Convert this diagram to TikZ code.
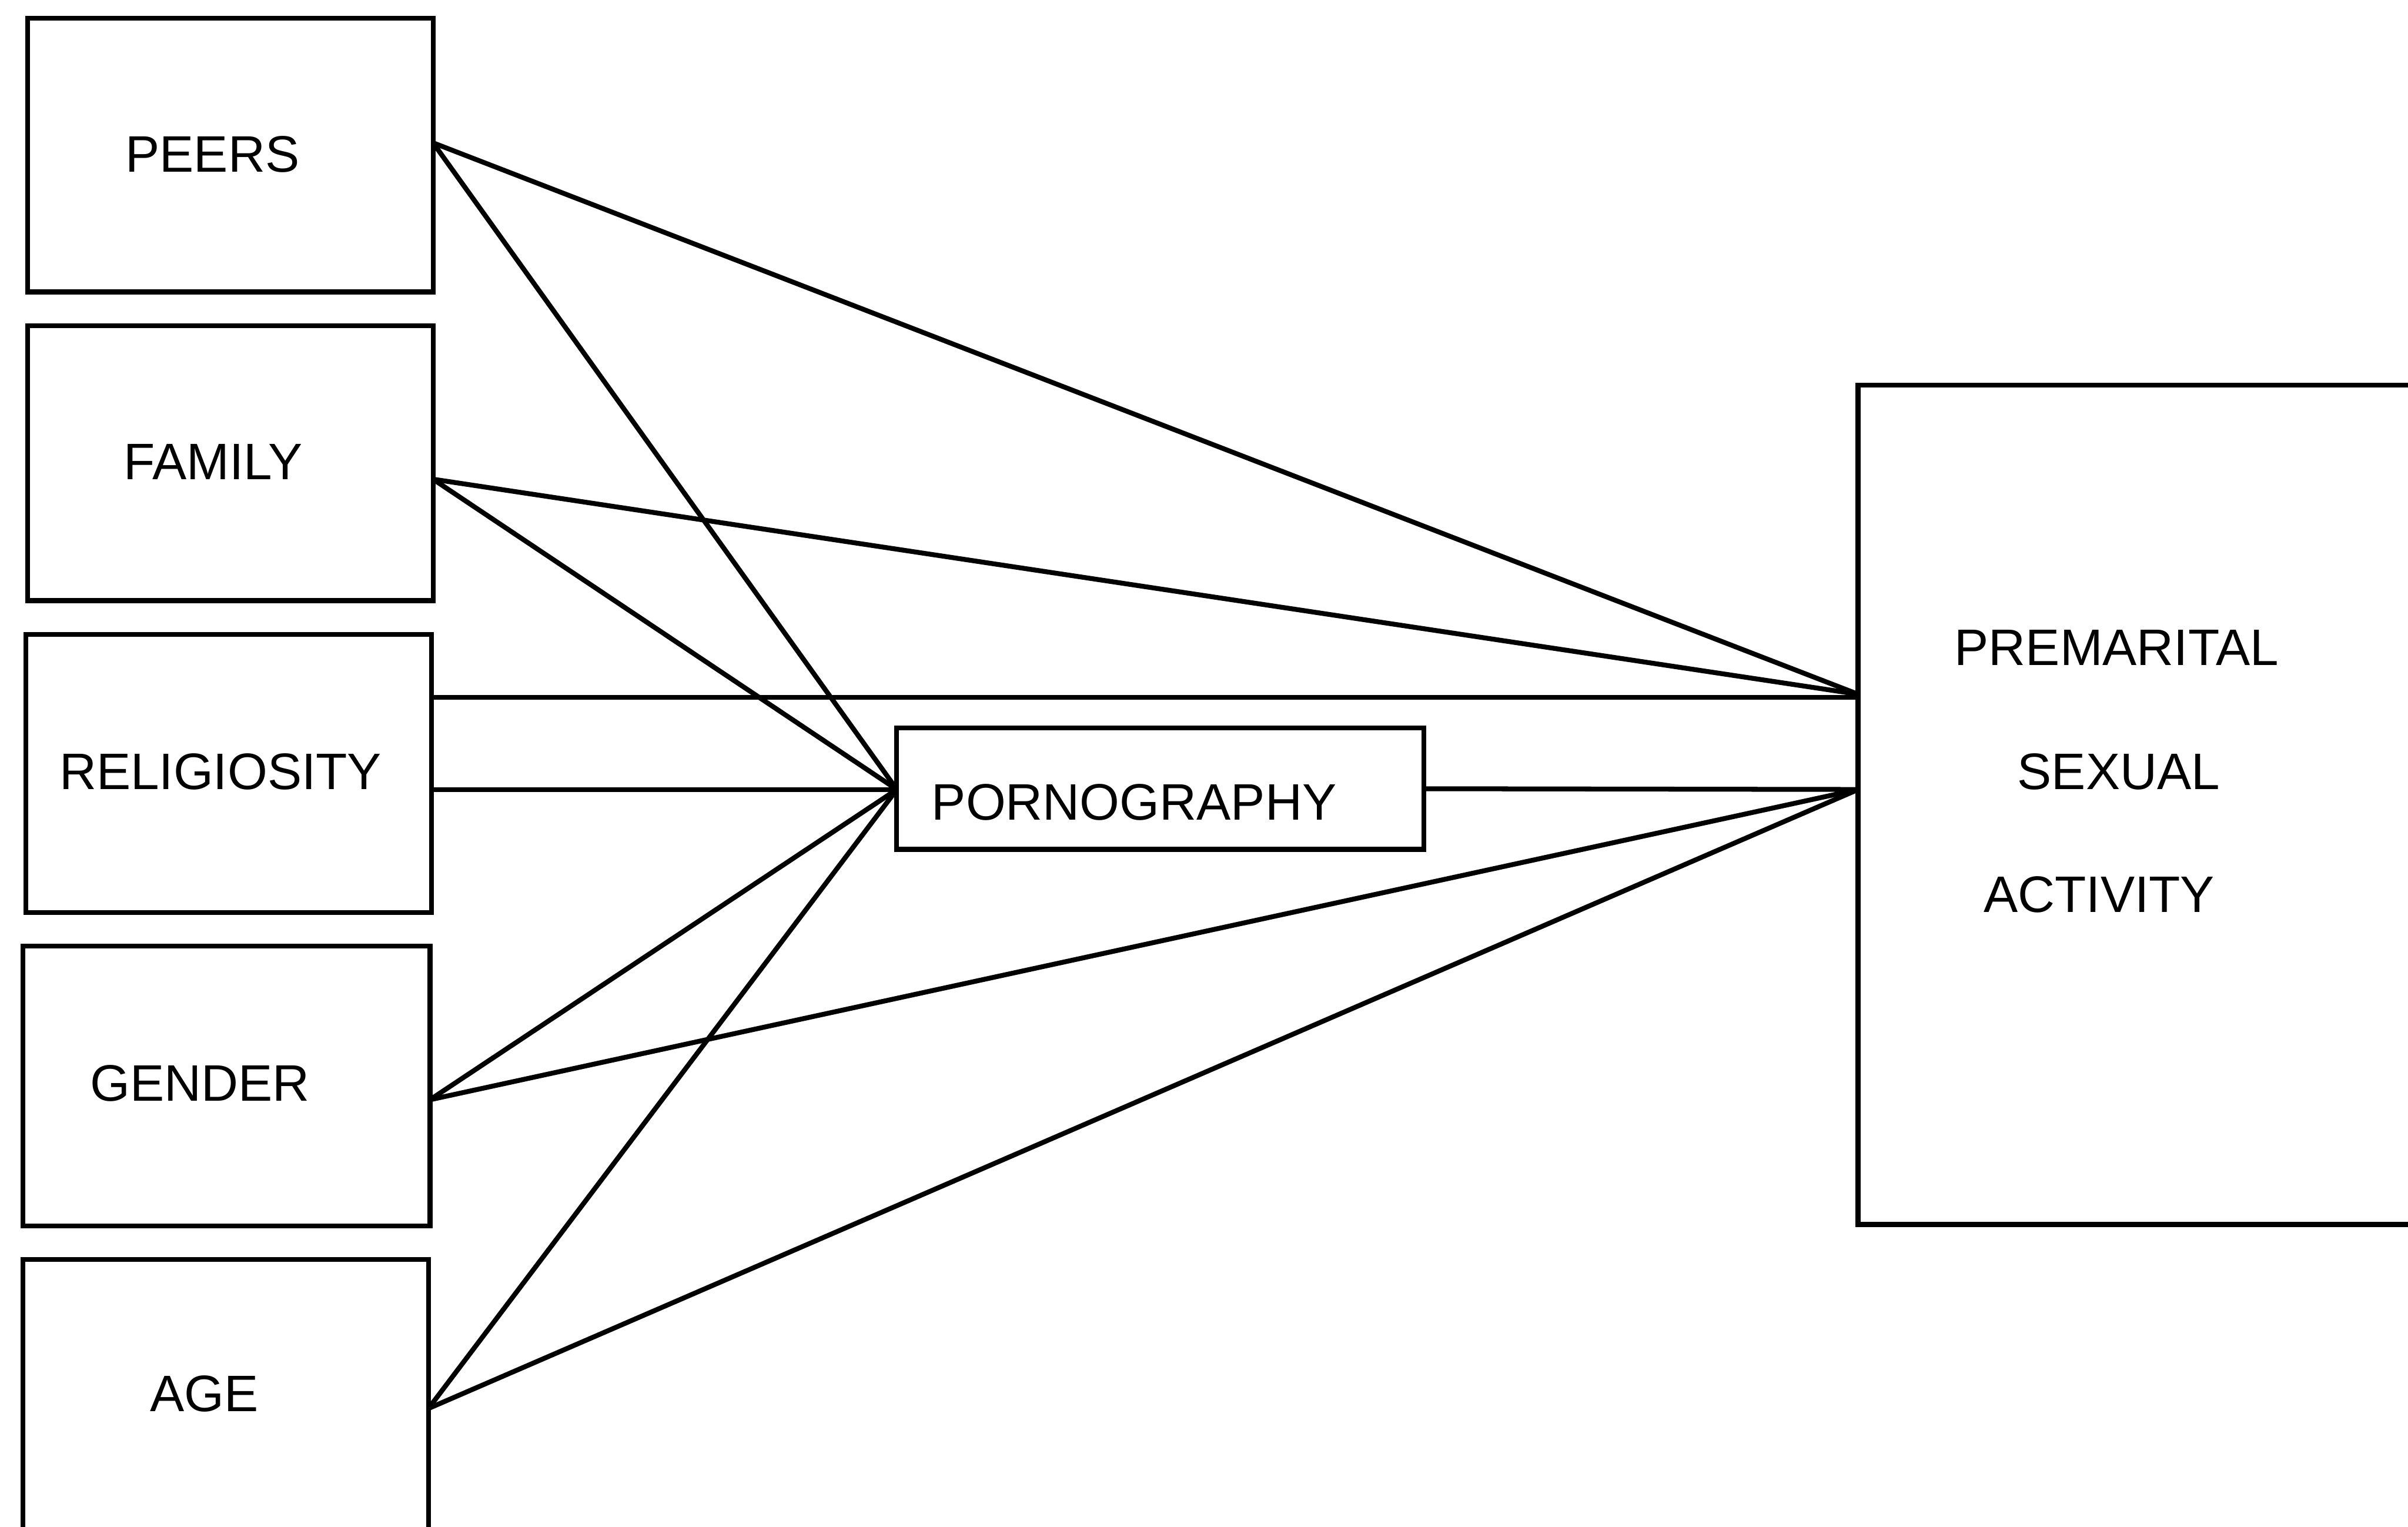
\documentclass[tikz,border=0pt]{standalone}
\usepackage{fontspec}
\setmainfont{Liberation Sans}
\begin{document}
\begin{tikzpicture}[x=0.01cm,y=-0.01cm,
  box/.style={draw, line width=0.9pt, fill=white, inner sep=0pt, outer sep=0pt},
  lbl/.style={anchor=base west, inner sep=0pt, font=\fontsize{9.5pt}{11pt}\selectfont},
  conn/.style={line width=0.9pt}]
\useasboundingbox (0,0) rectangle (1568,994);
\clip (0,0) rectangle (1568,994);
\fill[white] (0,0) rectangle (1568,994);
% boxes
\node[box, minimum width=2.64cm, minimum height=1.78cm] (peers) at (150,101) {};
\node[box, minimum width=2.64cm, minimum height=1.79cm] (family) at (150,301.5) {};
\node[box, minimum width=2.64cm, minimum height=1.81cm] (relig) at (149,503.5) {};
\node[box, minimum width=2.65cm, minimum height=1.82cm] (gender) at (147.5,707) {};
\node[box, minimum width=2.64cm, minimum height=2.00cm] (age) at (147,920) {};
\node[box, minimum width=3.43cm, minimum height=0.79cm] (porn) at (755.5,513.5) {};
\node[box, minimum width=3.90cm, minimum height=5.46cm] (prem) at (1405,524) {};
% labels
\node[lbl] (tpeers) at (81,112) {PEERS};
\node[lbl] (tfamily) at (80,312) {FAMILY};
\node[lbl] (trelig) at (38,514) {RELIGIOSITY};
\node[lbl] (tgender) at (58,717) {GENDER};
\node[lbl] (tage) at (97,919) {AGE};
\node[lbl] (tporn) at (606,534) {PORNOGRAPHY};
\node[lbl] (tprem1) at (1272,433) {PREMARITAL};
\node[lbl] (tprem2) at (1313,514) {SEXUAL};
\node[lbl] (tprem3) at (1291,594) {ACTIVITY};
% ports
\coordinate (peersOut) at (282,93);
\coordinate (familyOut) at (282,312);
\coordinate (religOutA) at (281,454);
\coordinate (religOutB) at (281,514);
\coordinate (genderOut) at (280,716);
\coordinate (ageOut) at (279,917);
\coordinate (pornIn) at (584,514);
\coordinate (premInA) at (1210,452);
\coordinate (premInB) at (1210,514);
% connectors
\draw[conn] (peersOut) -- (premInA);
\draw[conn] (peersOut) -- (pornIn);
\draw[conn] (familyOut) -- (premInA);
\draw[conn] (familyOut) -- (pornIn);
\draw[conn] (religOutA) -- (1210,454);
\draw[conn] (religOutB) -- (pornIn);
\draw[conn] (genderOut) -- (pornIn);
\draw[conn] (genderOut) -- (premInB);
\draw[conn] (ageOut) -- (pornIn);
\draw[conn] (ageOut) -- (premInB);
\draw[conn] (porn.east) -- (premInB);
\end{tikzpicture}
\end{document}
